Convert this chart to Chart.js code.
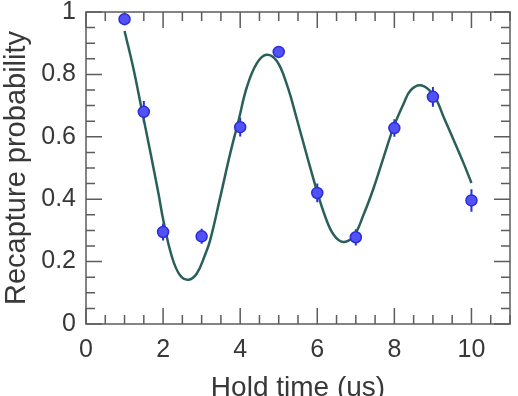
<!DOCTYPE html>
<html>
<head>
<meta charset="utf-8">
<script src="https://cdn.jsdelivr.net/npm/chart.js@4.4.1/dist/chart.umd.min.js"></script>
<style>
  html, body { margin: 0; padding: 0; background: #fff; overflow: hidden; }
  #wrap { width: 518px; height: 396px; overflow: hidden; }
</style>
</head>
<body>
<div id="wrap"><canvas id="chart" width="518" height="410"></canvas></div>
<script>
// measured points (hold time in us)
var holdTimes = [1, 1.5, 2, 3, 4, 5, 6, 7, 8, 9, 10];
var recapture = [0.977, 0.68, 0.295, 0.281, 0.631, 0.872, 0.42, 0.278, 0.628, 0.728, 0.396];
var recaptureErr = [0.015, 0.035, 0.027, 0.024, 0.03, 0.015, 0.03, 0.026, 0.028, 0.032, 0.036];

// fitted curve
var fitTimes = [1.0, 1.23, 1.45, 1.66, 1.88, 2.01, 2.23, 2.44, 2.66, 2.87, 3.09, 3.22, 3.48, 3.74, 3.96, 4.17, 4.43, 4.68,
                4.95, 5.21, 5.47, 5.73, 5.99, 6.21, 6.42, 6.67, 6.94, 7.2, 7.46, 7.72, 7.98, 8.24, 8.42, 8.69,
                9.02, 9.28, 9.54, 9.8, 10.0];
var fitValues = [0.939, 0.819, 0.685, 0.557, 0.418, 0.33, 0.215, 0.156, 0.142, 0.161, 0.222, 0.268, 0.405, 0.546, 0.653, 0.758, 0.835, 0.863,
                 0.843, 0.768, 0.657, 0.54, 0.427, 0.343, 0.287, 0.263, 0.281, 0.35, 0.435, 0.534, 0.631, 0.706, 0.749, 0.765,
                 0.733, 0.663, 0.589, 0.514, 0.452];

var xTicks = [0, 2, 4, 6, 8, 10];
var yTicks = [0, 0.2, 0.4, 0.6, 0.8, 1];
var xMinorStep = 0.5;
var yMinorStep = 0.05;

var pointBlue = '#2b2bdc';

function isMajor(v, list) {
    return list.some(function (t) { return Math.abs(t - v) < 1e-6; });
}

// box around the plot + inward ticks on all four sides, error bars
var framePlugin = {
    id: 'frame',
    beforeDatasetsDraw: function (chart) {
        var ctx = chart.ctx, a = chart.chartArea;
        var xs = chart.scales.x, ys = chart.scales.y;
        ctx.save();
        ctx.strokeStyle = '#5c5c5c';
        ctx.lineWidth = 1.5;
        ctx.strokeRect(a.left, a.top, a.right - a.left, a.bottom - a.top);
        ctx.beginPath();
        for (var v = xs.min; v <= xs.max + 1e-9; v += xMinorStep) {
            var px = xs.getPixelForValue(v);
            var len = isMajor(v, xTicks) ? 16 : 9;
            ctx.moveTo(px, a.bottom); ctx.lineTo(px, a.bottom - len);
            ctx.moveTo(px, a.top); ctx.lineTo(px, a.top + len);
        }
        for (var w = ys.min; w <= ys.max + 1e-9; w += yMinorStep) {
            var py = ys.getPixelForValue(w);
            var ln = isMajor(w, yTicks) ? 16 : 9;
            ctx.moveTo(a.left, py); ctx.lineTo(a.left + ln, py);
            ctx.moveTo(a.right, py); ctx.lineTo(a.right - ln, py);
        }
        ctx.stroke();

        // error bars
        ctx.strokeStyle = pointBlue;
        ctx.lineWidth = 2;
        ctx.beginPath();
        for (var i = 0; i < holdTimes.length; i++) {
            var ex = xs.getPixelForValue(holdTimes[i]);
            ctx.moveTo(ex, ys.getPixelForValue(recapture[i] - recaptureErr[i]));
            ctx.lineTo(ex, ys.getPixelForValue(recapture[i] + recaptureErr[i]));
        }
        ctx.stroke();
        ctx.restore();
    }
};

var ctx = document.getElementById('chart').getContext('2d');
var chart = new Chart(ctx, {
    type: 'line',
    data: {
        datasets: [{
            label: 'data',
            data: holdTimes.map(function (t, i) { return { x: t, y: recapture[i] }; }),
            showLine: false,
            pointRadius: 5.5,
            pointBackgroundColor: '#5252f4',
            pointBorderColor: pointBlue,
            pointBorderWidth: 1.5,
            order: 0
        }, {
            label: 'fit',
            data: fitTimes.map(function (t, i) { return { x: t, y: fitValues[i] }; }),
            borderColor: '#29605a',
            borderWidth: 2.5,
            pointRadius: 0,
            tension: 0.4,
            fill: false,
            order: 1
        }]
    },
    options: {
        responsive: false,
        animation: false,
        devicePixelRatio: 1,
        layout: { padding: { top: 12, right: 8, left: 0, bottom: 0 } },
        plugins: { legend: { display: false }, tooltip: { enabled: false } },
        scales: {
            x: {
                type: 'linear',
                min: 0,
                max: 11,
                afterBuildTicks: function (scale) {
                    scale.ticks = xTicks.map(function (v) { return { value: v }; });
                },
                afterFit: function (scale) {
                    scale.height = 86;
                    scale.paddingLeft = 0;
                    scale.paddingRight = 0;
                },
                grid: { display: false, drawTicks: false, tickLength: 0 },
                border: { display: false },
                ticks: {
                    autoSkip: false,
                    maxRotation: 0,
                    padding: 11,
                    color: '#383838',
                    font: { family: 'Liberation Sans, Arial, sans-serif', size: 25 }
                },
                title: {
                    display: true,
                    text: 'Hold time (us)',
                    color: '#383838',
                    padding: { top: 0, bottom: 5 },
                    font: { family: 'Liberation Sans, Arial, sans-serif', size: 28 }
                }
            },
            y: {
                type: 'linear',
                min: 0,
                max: 1,
                afterBuildTicks: function (scale) {
                    scale.ticks = yTicks.map(function (v) { return { value: v }; });
                },
                afterFit: function (scale) {
                    scale.width = 86;
                    scale.paddingTop = 0;
                    scale.paddingBottom = 0;
                },
                grid: { display: false, drawTicks: false, tickLength: 0 },
                border: { display: false },
                ticks: {
                    padding: 10,
                    color: '#383838',
                    font: { family: 'Liberation Sans, Arial, sans-serif', size: 25 },
                    callback: function (v) { return String(v); }
                },
                title: {
                    display: true,
                    text: 'Recapture probability',
                    color: '#383838',
                    padding: { top: 0, bottom: 0 },
                    font: { family: 'Liberation Sans, Arial, sans-serif', size: 29 }
                }
            }
        }
    },
    plugins: [framePlugin]
});
</script>
</body>
</html>
